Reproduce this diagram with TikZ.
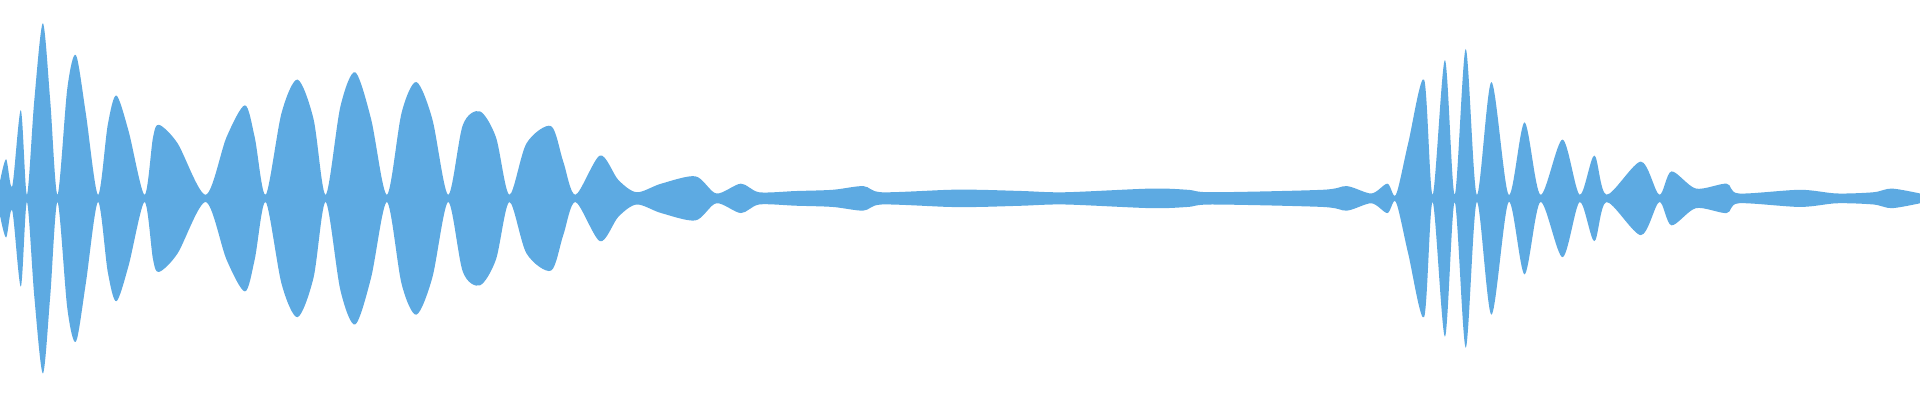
\documentclass[tikz,border=0pt]{standalone}
\usepackage{tikz}
\definecolor{wave}{RGB}{93,170,226}
\begin{document}
\begin{tikzpicture}[x=0.012245cm,y=0.012245cm]
        % Envelope of the signal, (position, amplitude)
        \def\envpts{(0,14)(5,32)(10,10)(17,72)(22,3)(28,80)(35,143)(41,80)(47,3)(55,90)(62,117)(70,70)(80,3)(88,60)(95,84)(105,55)(118,3)(125,50)(130,60)(145,45)(168,3)(185,50)(200,76)(208,50)(217,3)(230,70)(243,97)(256,65)(266,3)(278,75)(290,103)(303,65)(316,3)(328,70)(340,95)(353,65)(366,3)(378,60)(392,71)(405,50)(416,3)(430,45)(450,59)(460,30)(470,3)(490,35)(505,15)(520,5)(540,12)(568,18)(585,4)(605,12)(620,5)(650,6)(680,7)(705,10)(720,5)(775,7)(800,7)(835,6)(870,5)(940,8)(970,7)(990,5)(1080,7)(1100,10)(1120,4)(1133,12)(1140,3)(1150,45)(1163,97)(1170,3)(1180,113)(1188,3)(1197,122)(1206,3)(1218,95)(1232,3)(1245,62)(1258,3)(1276,48)(1290,3)(1302,35)(1312,3)(1340,30)(1355,3)(1365,22)(1385,8)(1410,12)(1420,4)(1470,7)(1500,4)(1530,5)(1545,8)(1568,4)}
        \useasboundingbox (0,-164.7) rectangle (1568,162);

        % Upper half
        \fill[wave] (0,0) -- plot[smooth,tension=0.5] coordinates {\envpts} -- (1568,0) -- cycle;

        % Lower half, mirrored
        \begin{scope}[yscale=-1]
            \fill[wave] (0,0) -- plot[smooth,tension=0.5] coordinates {\envpts} -- (1568,0) -- cycle;
        \end{scope}

        % Centre line
        \draw[wave, line width=1.5pt] (0,0) -- (1568,0);
\end{tikzpicture}
\end{document}
